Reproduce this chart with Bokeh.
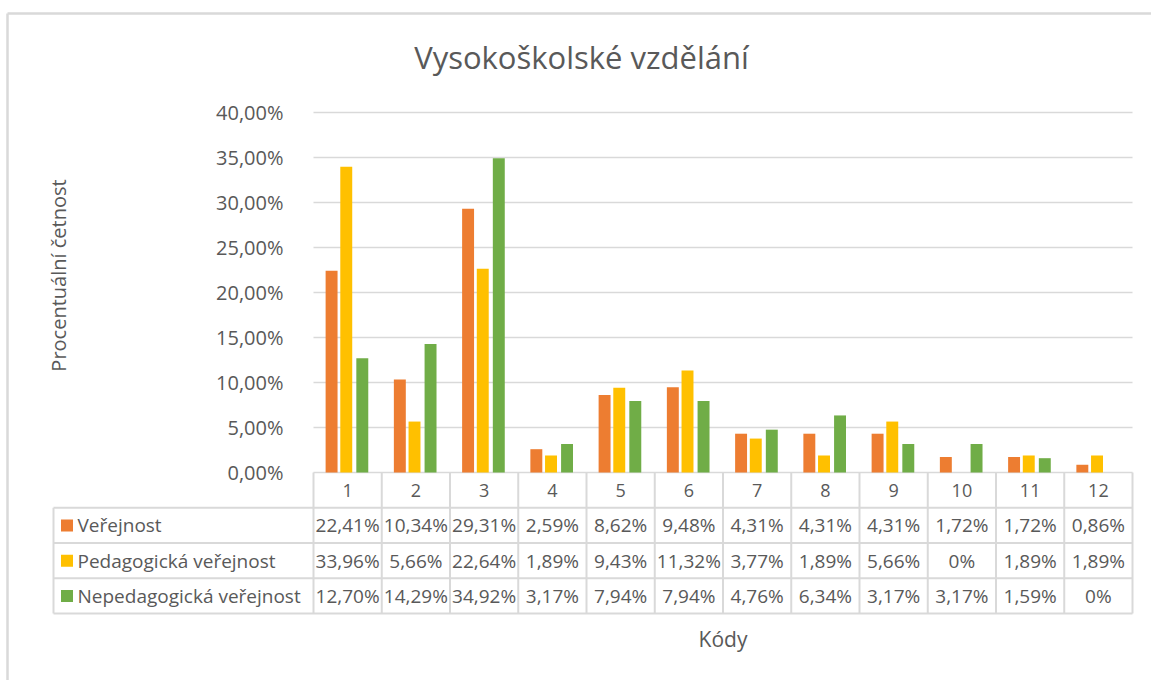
import math
from bokeh.plotting import figure
from bokeh.models import Range1d, FixedTicker, CustomJSTickFormatter
from bokeh.embed import file_html
from bokeh.resources import INLINE
from bokeh.core.properties import value

# ---------------- data ----------------
title_text = "Vysokoškolské vzdělání"
y_title = "Procentuální četnost"
x_title = "Kódy"
codes = ["1", "2", "3", "4", "5", "6", "7", "8", "9", "10", "11", "12"]
series_names = ["Veřejnost", "Pedagogická veřejnost", "Nepedagogická veřejnost"]
verejnost = [22.41, 10.34, 29.31, 2.59, 8.62, 9.48, 4.31, 4.31, 4.31, 1.72, 1.72, 0.86]
pedagogicka = [33.96, 5.66, 22.64, 1.89, 9.43, 11.32, 3.77, 1.89, 5.66, 0, 1.89, 1.89]
nepedagogicka = [12.70, 14.29, 34.92, 3.17, 7.94, 7.94, 4.76, 6.34, 3.17, 3.17, 1.59, 0]
series = [verejnost, pedagogicka, nepedagogicka]
colors = ["#ED7D31", "#FFC000", "#70AD47"]
y_ticks = [0, 0.05, 0.10, 0.15, 0.20, 0.25, 0.30, 0.35, 0.40]

# ---------------- styling / geometry (pixels of the page) ----------------
FONT = "Open Sans"
TXT = "#595959"
LINE = "#d9d9d9"
ORIG = 0                  # page offset of the canvas
W, H = 1151, 680
X0_PAGE = 313             # page x of category axis start
Y0_PAGE = 472             # page y of value 0
COLW = 68.25              # px per category
PX_Y = 900.0              # px per unit fraction
ROWH = 35.25 / PX_Y       # table row height in y units
offsets = [-0.235, -0.02, 0.215]
bar_w = 0.175


def px_x(page_x):
    return (page_x - X0_PAGE) / COLW


def px_y(page_y):
    return (Y0_PAGE - page_y) / PX_Y


n = len(codes)
xc = [i + 0.5 for i in range(n)]

p = figure(width=W, height=H, output_backend="svg", toolbar_location=None,
           x_range=Range1d(px_x(ORIG), px_x(ORIG + W)),
           y_range=Range1d(px_y(ORIG + H), px_y(ORIG)),
           x_axis_location=None, min_border=0)
p.outline_line_color = None
p.xgrid.grid_line_color = None

# y axis placed at the start of the category axis
yax = p.yaxis[0]
yax.fixed_location = 0
yax.bounds = (0, 0.40)
yax.ticker = FixedTicker(ticks=y_ticks)
yax.formatter = CustomJSTickFormatter(
    code="return (tick*100).toFixed(2).replace('.', ',') + '%';")
yax.axis_line_color = None
yax.major_tick_line_color = None
yax.minor_tick_line_color = None
yax.major_label_standoff = 24
yax.major_label_text_font = FONT
yax.major_label_text_font_size = "20px"
yax.major_label_text_color = TXT

# grid lines limited to the plot area
g = p.ygrid[0]
g.ticker = yax.ticker
g.bounds = (0, 0.40)
if "cross_bounds" in g.properties():
    g.cross_bounds = (0, n)
    g.grid_line_color = LINE
    g.grid_line_width = 1.5
else:
    g.grid_line_color = None
    p.segment(x0=[0] * len(y_ticks), x1=[n] * len(y_ticks), y0=y_ticks, y1=y_ticks,
              line_color=LINE, line_width=1.5)

# outer chart border (left and top edges)
p.segment(x0=[px_x(7), px_x(7)], y0=[px_y(13), px_y(13)],
          x1=[px_x(7), px_x(ORIG + W)], y1=[px_y(ORIG + H), px_y(13)],
          line_color=LINE, line_width=2.5)

# bars
for vals, col, off in zip(series, colors, offsets):
    p.vbar(x=[x + off for x in xc], top=[v / 100 for v in vals], width=bar_w,
           bottom=0, fill_color=col, line_color=None)

# title and axis titles
p.text(x=[px_x(581)], y=[px_y(56)], text=[title_text], text_align="center",
       text_baseline="middle", text_font=value(FONT), text_font_size=value("31px"),
       text_color=TXT)
p.text(x=[px_x(58)], y=[px_y(275)], text=[y_title], angle=math.pi / 2,
       text_align="center", text_baseline="middle", text_font=value(FONT),
       text_font_size=value("20px"), text_color=TXT)
p.text(x=[n / 2], y=[px_y(638)], text=[x_title], text_align="center",
       text_baseline="middle", text_font=value(FONT), text_font_size=value("21px"),
       text_color=TXT)

# ---------------- data table ----------------
x_left = px_x(53)
hx0, hy0, hx1, hy1 = [], [], [], []
for r in range(1, 5):
    hx0.append(x_left); hx1.append(n); hy0.append(-r * ROWH); hy1.append(-r * ROWH)
for c in range(n + 1):
    hx0.append(c); hx1.append(c); hy0.append(0); hy1.append(-4 * ROWH)
hx0.append(x_left); hx1.append(x_left); hy0.append(-ROWH); hy1.append(-4 * ROWH)
p.segment(x0=hx0, y0=hy0, x1=hx1, y1=hy1, line_color=LINE, line_width=2)

p.text(x=xc, y=[-0.5 * ROWH] * n, text=codes, text_align="center",
       text_baseline="middle", text_font=value(FONT), text_font_size=value("18px"),
       text_color=TXT)


def fmt(v):
    return "0%" if v == 0 else f"{v:.2f}".replace(".", ",") + "%"


for k, (name, vals, col) in enumerate(zip(series_names, series, colors)):
    yrow = -(k + 1.5) * ROWH
    p.scatter(x=[px_x(66.5)], y=[yrow], marker="square", size=12,
              fill_color=col, line_color=None)
    p.text(x=[px_x(77)], y=[yrow], text=[name], text_align="left",
           text_baseline="middle", text_font=value(FONT), text_font_size=value("19px"),
           text_color=TXT)
    p.text(x=xc, y=[yrow] * n, text=[fmt(v) for v in vals], text_align="center",
           text_baseline="middle", text_font=value(FONT), text_font_size=value("19px"),
           text_color=TXT)

open("out.html", "w").write(file_html(p, INLINE))
